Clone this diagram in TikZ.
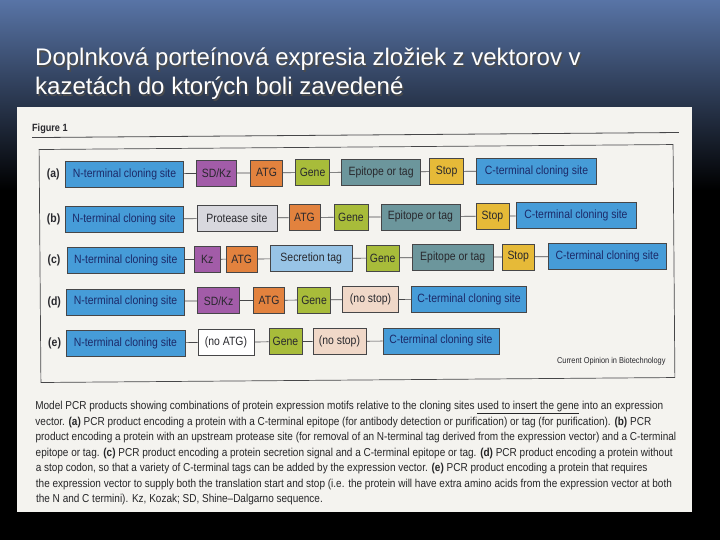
\documentclass[tikz,border=0pt]{standalone}
\usepackage{fontspec}
\setmainfont{Liberation Sans}
\usepackage{graphicx}

\definecolor{skytop}{RGB}{88,116,166}
\definecolor{paper}{RGB}{244,243,239}
\definecolor{boxline}{RGB}{70,70,72}
\definecolor{boxtext}{RGB}{40,40,45}
\definecolor{navytext}{RGB}{28,42,105}
\definecolor{termblue}{RGB}{70,156,216}
\definecolor{sdpurple}{RGB}{162,92,168}
\definecolor{atgorange}{RGB}{226,130,62}
\definecolor{genegreen}{RGB}{168,188,58}
\definecolor{epiteal}{RGB}{108,150,156}
\definecolor{stopyellow}{RGB}{230,186,56}
\definecolor{protgray}{RGB}{216,216,222}
\definecolor{secblue}{RGB}{152,196,230}
\definecolor{peach}{RGB}{240,216,200}
\definecolor{captext}{RGB}{38,38,40}

\newcommand{\sx}[1]{\scalebox{0.87}[1]{#1}}

\begin{document}
\begin{tikzpicture}[x=1pt,y=-1pt]
  \tikzstyle{every node} = [inner sep = 0pt];
  \tikzstyle{part} = [draw=boxline, line width=0.6pt, minimum height=26pt,
                      anchor=west, text=boxtext, font=\fontsize{12}{12}\selectfont];
  \tikzstyle{term} = [part, fill=termblue, text=navytext];
  \tikzstyle{rowlabel} = [text=boxtext, font=\bfseries\fontsize{12}{12}\selectfont];
  \tikzstyle{link} = [draw=boxline, line width=0.7pt];
  \tikzstyle{capline} = [anchor=base west, text=captext, font=\fontsize{11.5}{12}\selectfont];
  \useasboundingbox (0,0) rectangle (720,540);

  % background and title
  \fill[black] (0,0) rectangle (720,540);
  \shade[top color=skytop, bottom color=black] (0,0) rectangle (720,190);
  \node[anchor=base west, text=black!70, font=\fontsize{24}{28}\selectfont] (title1s) at (36.5,67.5) {Doplnková porteínová expresia zložiek z vektorov v};
  \node[anchor=base west, text=black!70, font=\fontsize{24}{28}\selectfont] (title2s) at (36.5,96.5) {kazetách do ktorých boli zavedené};
  \node[anchor=base west, text=white, font=\fontsize{24}{28}\selectfont] (title1) at (35,66) {Doplnková porteínová expresia zložiek z vektorov v};
  \node[anchor=base west, text=white, font=\fontsize{24}{28}\selectfont] (title2) at (35,95) {kazetách do ktorých boli zavedené};

  % scanned figure
  \fill[paper] (17,107) rectangle (692,512);
  \begin{scope}[rotate around={0.45:(360,265)}]
    \node[anchor=base west, text=boxtext, font=\bfseries\fontsize{10.5}{12}\selectfont] (fig) at (33,129) {\sx{Figure 1}};
    \draw[boxline, line width=0.8pt] (33,135) -- (680,135);
    \draw[boxline, line width=0.7pt] (40,147) rectangle (674,380);

    % row (a)
    \node[rowlabel] (la) at (54,172) {\sx{(a)}};
    \node[term, minimum width=118pt] (a1) at (66,172) {\sx{N-terminal cloning site}};
    \node[part, fill=sdpurple, minimum width=40pt] (a2) at (197,172) {\sx{SD/Kz}};
    \node[part, fill=atgorange, minimum width=32pt] (a3) at (251,172) {\sx{ATG}};
    \node[part, fill=genegreen, minimum width=34pt] (a4) at (296,172) {\sx{Gene}};
    \node[part, fill=epiteal, minimum width=79pt] (a5) at (342,172) {\sx{Epitope or tag}};
    \node[part, fill=stopyellow, minimum width=34pt] (a6) at (430,172) {\sx{Stop}};
    \node[term, minimum width=120pt] (a7) at (477,172) {\sx{C-terminal cloning site}};

    % row (b)
    \node[rowlabel] (lb) at (54,217) {\sx{(b)}};
    \node[term, minimum width=118pt] (b1) at (65,217) {\sx{N-terminal cloning site}};
    \node[part, fill=protgray, minimum width=80pt] (b2) at (197,217) {\sx{Protease site}};
    \node[part, fill=atgorange, minimum width=31pt] (b3) at (289,217) {\sx{ATG}};
    \node[part, fill=genegreen, minimum width=34pt] (b4) at (334,217) {\sx{Gene}};
    \node[part, fill=epiteal, minimum width=79pt] (b5) at (381,217) {\sx{Epitope or tag}};
    \node[part, fill=stopyellow, minimum width=33pt] (b6) at (476,217) {\sx{Stop}};
    \node[term, minimum width=120pt] (b7) at (516,217) {\sx{C-terminal cloning site}};

    % row (c)
    \node[rowlabel] (lc) at (54,258) {\sx{(c)}};
    \node[term, minimum width=117pt] (c1) at (67,258) {\sx{N-terminal cloning site}};
    \node[part, fill=sdpurple, minimum width=26pt] (c2) at (194,258) {\sx{Kz}};
    \node[part, fill=atgorange, minimum width=31pt] (c3) at (226,258) {\sx{ATG}};
    \node[part, fill=secblue, minimum width=82pt] (c4) at (270,258) {\sx{Secretion tag}};
    \node[part, fill=genegreen, minimum width=33pt] (c5) at (366,258) {\sx{Gene}};
    \node[part, fill=epiteal, minimum width=81pt] (c6) at (412,258) {\sx{Epitope or tag}};
    \node[part, fill=stopyellow, minimum width=32pt] (c7) at (502,258) {\sx{Stop}};
    \node[term, minimum width=118pt] (c8) at (548,258) {\sx{C-terminal cloning site}};

    % row (d)
    \node[rowlabel] (ld) at (54,299.5) {\sx{(d)}};
    \node[term, minimum width=118pt] (d1) at (66,299.5) {\sx{N-terminal cloning site}};
    \node[part, fill=sdpurple, minimum width=42pt] (d2) at (197,299.5) {\sx{SD/Kz}};
    \node[part, fill=atgorange, minimum width=31pt] (d3) at (253,299.5) {\sx{ATG}};
    \node[part, fill=genegreen, minimum width=33pt] (d4) at (297,299.5) {\sx{Gene}};
    \node[part, fill=peach, minimum width=56pt] (d5) at (342,299.5) {\sx{(no stop)}};
    \node[term, minimum width=115pt] (d6) at (411,299.5) {\sx{C-terminal cloning site}};

    % row (e)
    \node[rowlabel] (le) at (54,341) {\sx{(e)}};
    \node[term, minimum width=119pt] (e1) at (65,341) {\sx{N-terminal cloning site}};
    \node[part, fill=white, minimum width=56pt] (e2) at (197,341) {\sx{(no ATG)}};
    \node[part, fill=genegreen, minimum width=33pt] (e3) at (268,341) {\sx{Gene}};
    \node[part, fill=peach, minimum width=53pt] (e4) at (312,341) {\sx{(no stop)}};
    \node[term, minimum width=116pt] (e5) at (382,341) {\sx{C-terminal cloning site}};

    \foreach \r/\n in {a/7,b/7,c/8,d/6,e/5}{
      \foreach \i in {2,...,\n}{
        \pgfmathtruncatemacro{\avant}{\i-1}
        \path[link] (\r\avant) -- (\r\i);
      }
    }

    \node[anchor=base east, text=boxtext, font=\fontsize{8.5}{10}\selectfont] (source) at (665,366) {\sx{Current Opinion in Biotechnology}};

    % caption
    \node[capline] (cap1) at (34,407) {\sx{Model PCR products showing combinations of protein expression motifs relative to the cloning sites \underline{used to insert the gene} into an expression}};
    \node[capline] (cap2) at (34,422.5) {\sx{vector. \textbf{(a)} PCR product encoding a protein with a C-terminal epitope (for antibody detection or purification) or tag (for purification). \textbf{(b)} PCR}};
    \node[capline] (cap3) at (34,438) {\sx{product encoding a protein with an upstream protease site (for removal of an N-terminal tag derived from the expression vector) and a C-terminal}};
    \node[capline] (cap4) at (34,453.5) {\sx{epitope or tag. \textbf{(c)} PCR product encoding a protein secretion signal and a C-terminal epitope or tag. \textbf{(d)} PCR product encoding a protein without}};
    \node[capline] (cap5) at (34,469) {\sx{a stop codon, so that a variety of C-terminal tags can be added by the expression vector. \textbf{(e)} PCR product encoding a protein that requires}};
    \node[capline] (cap6) at (34,484.5) {\sx{the expression vector to supply both the translation start and stop (i.e. the protein will have extra amino acids from the expression vector at both}};
    \node[capline] (cap7) at (34,500) {\sx{the N and C termini). Kz, Kozak; SD, Shine--Dalgarno sequence.}};
  \end{scope}
\end{tikzpicture}
\end{document}
